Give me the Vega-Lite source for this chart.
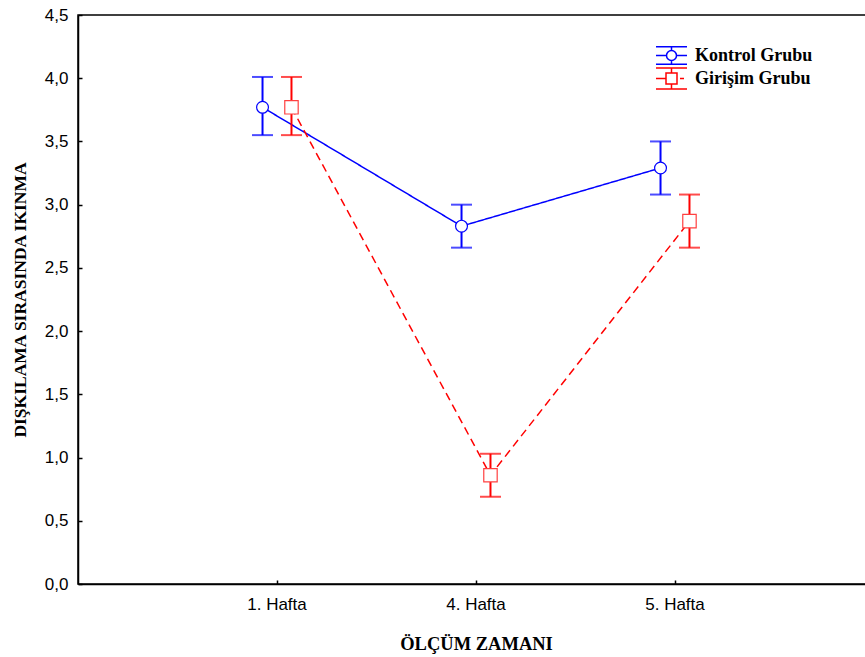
{
  "$schema": "https://vega.github.io/schema/vega-lite/v6.json",
  "autosize": {"type": "none"},
  "padding": {"left": 78, "top": 15, "right": 0, "bottom": 73},
  "width": 796,
  "height": 569,
  "background": "white",
  "config": {
    "view": {"stroke": "black", "strokeWidth": 1.5},
    "axis": {
      "grid": false,
      "domainColor": "black",
      "domainWidth": 1.5,
      "tickColor": "black",
      "tickWidth": 1.5,
      "labelFont": "Liberation Sans",
      "labelFontSize": 17,
      "labelColor": "black",
      "titleFont": "Liberation Serif",
      "titleFontWeight": "bold",
      "titleFontSize": 17.5,
      "titleColor": "black"
    }
  },
  "data": {
    "values": [
      {"group": "Kontrol Grubu", "series": "Kontrol Grubu", "week": "1. Hafta", "mean": 3.77, "lo": 3.55, "hi": 4.01},
      {"group": "Kontrol Grubu", "series": "Kontrol Grubu", "week": "4. Hafta", "mean": 2.83, "lo": 2.66, "hi": 3.0},
      {"group": "Kontrol Grubu", "series": "Kontrol Grubu", "week": "5. Hafta", "mean": 3.29, "lo": 3.08, "hi": 3.5},
      {"group": "Girişim Grubu", "series": "Girişim Grubu", "week": "1. Hafta", "mean": 3.77, "lo": 3.55, "hi": 4.01},
      {"group": "Girişim Grubu", "series": "Girişim Grubu", "week": "4. Hafta", "mean": 0.86, "lo": 0.69, "hi": 1.03},
      {"group": "Girişim Grubu", "series": "Girişim Grubu", "week": "5. Hafta", "mean": 2.87, "lo": 2.66, "hi": 3.08}
    ]
  },
  "encoding": {
    "x": {
      "field": "week",
      "type": "ordinal",
      "scale": {"type": "band", "paddingInner": 0.709, "paddingOuter": 0.8545},
      "axis": {
        "title": "ÖLÇÜM ZAMANI",
        "titleFontSize": 18.5,
        "labelAngle": 0,
        "tickSize": -4,
        "labelPadding": 16,
        "titlePadding": 22
      }
    },
    "xOffset": {
      "field": "group",
      "type": "nominal",
      "scale": {"domain": ["Kontrol Grubu", "Girişim Grubu"]}
    }
  },
  "layer": [
    {
      "mark": {"type": "line", "strokeWidth": 1.5},
      "encoding": {
        "y": {
          "field": "mean",
          "type": "quantitative",
          "scale": {"domain": [0, 4.5], "nice": false},
          "axis": {
            "title": "DIŞKILAMA SIRASINDA IKINMA",
            "values": [0, 0.5, 1, 1.5, 2, 2.5, 3, 3.5, 4, 4.5],
            "labelExpr": "replace(format(datum.value, '.1f'), '.', ',')",
            "tickSize": -4,
            "labelPadding": 14,
            "titlePadding": 15
          }
        },
        "stroke": {
          "field": "series",
          "type": "nominal",
          "scale": {"range": ["#ff0000", "#0000ff"]},
          "legend": null
        },
        "strokeDash": {
          "field": "series",
          "type": "nominal",
          "scale": {"range": [[8, 5], [1, 0]]},
          "legend": null
        }
      }
    },
    {
      "mark": {"type": "rule", "strokeWidth": 2},
      "encoding": {
        "y": {"field": "lo", "type": "quantitative"},
        "y2": {"field": "hi"},
        "stroke": {"field": "series", "type": "nominal", "legend": null}
      }
    },
    {
      "mark": {"type": "tick", "size": 21, "thickness": 2},
      "encoding": {
        "y": {"field": "lo", "type": "quantitative"},
        "fill": {
          "field": "series",
          "type": "nominal",
          "scale": {"range": ["#ff0000", "#0000ff"]},
          "legend": null
        }
      }
    },
    {
      "mark": {"type": "tick", "size": 21, "thickness": 2},
      "encoding": {
        "y": {"field": "hi", "type": "quantitative"},
        "fill": {"field": "series", "type": "nominal", "legend": null}
      }
    },
    {
      "transform": [{"filter": "datum.group === 'Kontrol Grubu'"}],
      "mark": {"type": "point", "shape": "circle", "size": 140, "filled": true, "fill": "white", "stroke": "#0000ff", "strokeWidth": 1.2, "opacity": 1},
      "encoding": {"y": {"field": "mean", "type": "quantitative"}}
    },
    {
      "transform": [{"filter": "datum.group === 'Girişim Grubu'"}],
      "mark": {"type": "point", "shape": "square", "size": 180, "filled": true, "fill": "white", "stroke": "#ff4040", "strokeWidth": 1.2, "opacity": 1},
      "encoding": {"y": {"field": "mean", "type": "quantitative"}}
    },
    {
      "mark": {"type": "point", "opacity": 0, "filled": false},
      "encoding": {
        "y": {"field": "mean", "type": "quantitative"},
        "color": {
          "field": "group",
          "type": "nominal",
          "scale": {"domain": ["Kontrol Grubu", "Girişim Grubu"], "range": ["#0000ff", "#ff0000"]},
          "legend": {
            "title": null,
            "orient": "none",
            "legendX": 582.5,
            "legendY": 29.5,
            "padding": 0,
            "symbolSize": 400,
            "symbolOpacity": 1,
            "symbolStrokeWidth": 1.5,
            "symbolFillColor": "transparent",
            "labelFont": "Liberation Serif",
            "labelFontWeight": "bold",
            "labelFontSize": 18,
            "labelColor": "black",
            "labelOffset": 12.5,
            "rowPadding": -3
          }
        },
        "shape": {
          "field": "group",
          "type": "nominal",
          "scale": {
            "domain": ["Kontrol Grubu", "Girişim Grubu"],
            "range": [
              "M-1.55,-0.88H1.55M-1.55,0.88H1.55M0,-0.88V-0.5M0,0.5V0.88M-1.55,0H-0.5M0.5,0H1.55M0.5,0A0.5,0.5,0,1,1,-0.5,0A0.5,0.5,0,1,1,0.5,0Z",
              "M-1.55,-1.05H1.55M-1.55,1.05H1.55M0,-1.05V-0.55M0,0.55V1.05M-1.55,0H-0.55M0.85,0H1.25M-0.55,-0.55H0.55V0.55H-0.55Z"
            ]
          }
        }
      }
    }
  ]
}
